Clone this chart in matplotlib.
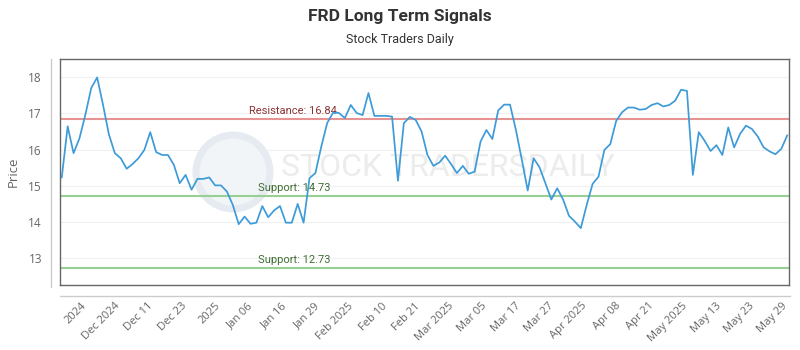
import matplotlib
matplotlib.use("Agg")
import matplotlib.pyplot as plt
from matplotlib import font_manager
from matplotlib.lines import Line2D
from matplotlib.patches import Ellipse
import numpy as np

# Daily closing prices for FRD
prices = [
    15.23, 16.64, 15.90, 16.31, 16.96, 17.70, 17.99, 17.23, 16.41, 15.90,
    15.76, 15.47, 15.60, 15.76, 15.99, 16.48, 15.93, 15.85, 15.85, 15.58,
    15.07, 15.30, 14.89, 15.19, 15.19, 15.23, 15.01, 15.01, 14.84, 14.47,
    13.94, 14.15, 13.95, 13.98, 14.44, 14.13, 14.32, 14.44, 13.98, 13.98,
    14.50, 13.98, 15.21, 15.35, 16.08, 16.73, 17.02, 17.01, 16.87, 17.23,
    17.01, 16.95, 17.56, 16.93, 16.93, 16.93, 16.91, 15.14, 16.73, 16.90,
    16.82, 16.50, 15.85, 15.55, 15.64, 15.83, 15.60, 15.35, 15.55, 15.33,
    15.39, 16.22, 16.54, 16.29, 17.08, 17.24, 17.24, 16.54, 15.72, 14.87,
    15.76, 15.51, 15.07, 14.62, 14.93, 14.62, 14.17, 14.01, 13.83, 14.47,
    15.05, 15.25, 15.99, 16.15, 16.79, 17.03, 17.16, 17.16, 17.10, 17.12,
    17.23, 17.28, 17.19, 17.23, 17.35, 17.65, 17.62, 15.30, 16.48, 16.24,
    15.96, 16.12, 15.85, 16.61, 16.06, 16.43, 16.66, 16.57, 16.36, 16.06,
    15.95, 15.87, 16.02, 16.39,
]

date_labels = [
    "2024", "Dec 2024", "Dec 11", "Dec 23", "2025", "Jan 06", "Jan 16",
    "Jan 29", "Feb 2025", "Feb 10", "Feb 21", "Mar 2025", "Mar 05",
    "Mar 17", "Mar 27", "Apr 2025", "Apr 08", "Apr 21", "May 2025",
    "May 13", "May 23", "May 29",
]

resistance = 16.84
supports = [14.73, 12.73]
y_ticks = [13, 14, 15, 16, 17, 18]

available = {f.name for f in font_manager.fontManager.ttflist}
narrow = "Liberation Sans Narrow" if "Liberation Sans Narrow" in available else "Roboto"
body = "Open Sans" if "Open Sans" in available else "DejaVu Sans"

W, H = 800, 350
fig = plt.figure(figsize=(8, 3.5), dpi=100)
ax = fig.add_axes([60 / W, 1 - 285 / H, 729 / W, 226 / H])

x = np.arange(len(prices))
ax.set_xlim(-0.3, len(prices) - 1 + 0.3)
ax.set_ylim(12.26, 18.5)

# faint horizontal grid
for v in y_ticks:
    ax.axhline(v, color="#f0f0f0", lw=0.8, zorder=0)

# watermark: round logo + wordmark
logo = Ellipse((233 / W, 1 - 172 / H), 74 / W, 74 / H, transform=fig.transFigure,
               facecolor="#f2f5f8", edgecolor="#e5ebf0", lw=5, zorder=0.5)
ax.add_patch(logo)
ax.text(0.532, 0.52, "STOCK TRADERSDAILY", transform=ax.transAxes,
        ha="center", va="center", fontsize=23, family=narrow,
        color="#ececec", zorder=1)

# signal levels
ax.axhline(resistance, color="#e89393", lw=1.5, zorder=2)
ax.text(31.8, resistance + 0.08, f"Resistance: {resistance:.2f}", color="#8e3535",
        fontsize=8, family="Roboto", ha="left", va="bottom", zorder=3)
for s in supports:
    ax.axhline(s, color="#98cf95", lw=1.5, zorder=2)
    ax.text(33.2, s + 0.08, f"Support: {s:.2f}", color="#3f6f33",
            fontsize=8, family="Roboto", ha="left", va="bottom", zorder=3)

ax.plot(x, prices, color="#3d9bd9", lw=1.25, zorder=4, solid_joinstyle="round")

# plot border
for sp in ax.spines.values():
    sp.set_color("#666666")
    sp.set_linewidth(1.0)

ax.set_yticks(y_ticks)
ax.set_yticklabels([str(v) for v in y_ticks], family=body, fontsize=8.5, color="#666666")
ax.tick_params(axis="y", length=0, pad=13)

tick_pos = np.linspace(3.9, 122.8, len(date_labels))
ax.set_xticks(tick_pos)
ax.set_xticklabels(date_labels, rotation=45, ha="right", va="center",
                   rotation_mode="anchor", family=body, fontsize=8, color="#666666")
ax.tick_params(axis="x", length=0, pad=14)

ax.set_ylabel("Price", family=body, fontsize=9.5, color="#666666", labelpad=6)

# detached axis lines
fig.add_artist(Line2D([50.7 / W, 50.7 / W], [1 - 59 / H, 1 - 287 / H],
                      transform=fig.transFigure, color="#cccccc", lw=1))
fig.add_artist(Line2D([60 / W, 790 / W], [1 - 296 / H, 1 - 296 / H],
                      transform=fig.transFigure, color="#cccccc", lw=1))

fig.text(0.5, 1 - 16 / H, "FRD Long Term Signals", ha="center", va="center",
         family=narrow, fontweight="bold", fontsize=12.5, color="#333333")
fig.text(0.5, 1 - 40 / H, "Stock Traders Daily", ha="center", va="center",
         family=narrow, fontsize=9, color="#333333")

fig.savefig("out.png", dpi=100, facecolor="white")
